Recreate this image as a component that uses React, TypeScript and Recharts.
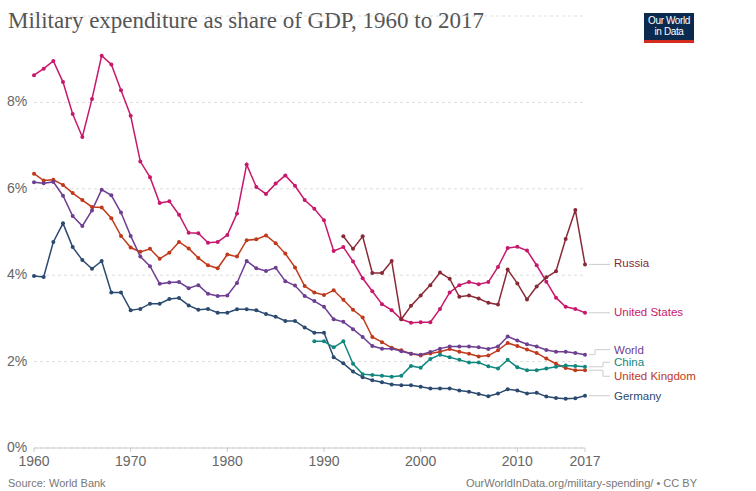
import { CartesianGrid, Line, LineChart, XAxis, YAxis } from "recharts";

const years = Array.from({ length: 58 }, (_, i) => 1960 + i);

const usa = [
  8.63, 8.78, 8.96, 8.47, 7.73, 7.2, 8.08, 9.08, 8.88, 8.28,
  7.69, 6.63, 6.27, 5.67, 5.71, 5.4, 4.98, 4.97, 4.75, 4.77,
  4.93, 5.43, 6.56, 6.04, 5.88, 6.12, 6.31, 6.07, 5.74, 5.54,
  5.27, 4.56, 4.65, 4.32, 3.93, 3.63, 3.33, 3.19, 2.98, 2.9,
  2.91, 2.91, 3.22, 3.6, 3.77, 3.84, 3.79, 3.84, 4.19, 4.63,
  4.66, 4.57, 4.23, 3.85, 3.48, 3.27, 3.22, 3.13,
];

// Russia from 1992
const russia = [
  4.9, 4.61, 4.9, 4.05, 4.05, 4.33, 2.98, 3.29,
  3.53, 3.77, 4.06, 3.92, 3.5, 3.53, 3.46, 3.36, 3.32, 4.13,
  3.81, 3.44, 3.74, 3.95, 4.09, 4.84, 5.51, 4.25,
];

const world = [
  6.15, 6.13, 6.16, 5.84, 5.37, 5.14, 5.5, 5.98, 5.85, 5.45,
  4.91, 4.43, 4.21, 3.8, 3.83, 3.84, 3.7, 3.77, 3.57, 3.52,
  3.53, 3.82, 4.33, 4.16, 4.1, 4.17, 3.86, 3.76, 3.52, 3.4,
  3.27, 2.98, 2.92, 2.75, 2.57, 2.36, 2.3, 2.3, 2.24, 2.18,
  2.16, 2.22, 2.3, 2.35, 2.35, 2.35, 2.33, 2.29, 2.35, 2.58,
  2.49, 2.4, 2.35, 2.27, 2.23, 2.23, 2.2, 2.16,
];

const uk = [
  6.35, 6.19, 6.21, 6.09, 5.9, 5.74, 5.58, 5.57, 5.32, 4.91,
  4.64, 4.54, 4.61, 4.38, 4.52, 4.77, 4.62, 4.4, 4.23, 4.16,
  4.48, 4.43, 4.81, 4.83, 4.92, 4.74, 4.5, 4.18, 3.75, 3.6,
  3.54, 3.65, 3.43, 3.2, 3.02, 2.57, 2.45, 2.32, 2.26, 2.18,
  2.14, 2.19, 2.23, 2.29, 2.23, 2.18, 2.12, 2.14, 2.26, 2.43,
  2.36, 2.28, 2.2, 2.07, 1.95, 1.85, 1.8, 1.8,
];

// China from 1989
const china = [
  2.47, 2.47, 2.33, 2.47, 1.95, 1.71, 1.69, 1.67, 1.65, 1.67,
  1.9, 1.86, 2.06, 2.16, 2.1, 2.04, 1.98, 1.98, 1.89, 1.84, 2.04,
  1.87, 1.8, 1.8, 1.84, 1.88, 1.91, 1.9, 1.88,
];

const germany = [
  3.98, 3.96, 4.77, 5.2, 4.65, 4.35, 4.15, 4.33, 3.6, 3.6,
  3.19, 3.22, 3.34, 3.34, 3.45, 3.47, 3.3, 3.2, 3.22, 3.13,
  3.13, 3.21, 3.21, 3.19, 3.1, 3.04, 2.94, 2.94, 2.79, 2.67,
  2.67, 2.1, 1.96, 1.77, 1.64, 1.57, 1.52, 1.47, 1.45, 1.45,
  1.42, 1.38, 1.38, 1.38, 1.33, 1.3, 1.25, 1.2, 1.26, 1.36,
  1.33, 1.26, 1.28, 1.19, 1.16, 1.14, 1.15, 1.21,
];

const xTicks = [1960, 1970, 1980, 1990, 2000, 2010, 2017];
const yTicks = [0, 2, 4, 6, 8];

const padFront = (arr: number[]) =>
  [...Array(years.length - arr.length).fill(null), ...arr];

const data = years.map((year, i) => ({
  year,
  usa: usa[i],
  russia: padFront(russia)[i],
  world: world[i],
  uk: uk[i],
  china: padFront(china)[i],
  germany: germany[i],
}));

// label nudges for the right-hand legend (dy from end point, elbow x offset)
const series = [
  { key: "germany", name: "Germany", color: "#2b4a6f", dy: 0, elbow: 0 },
  { key: "uk", name: "United Kingdom", color: "#c0391b", dy: 6, elbow: 18 },
  { key: "china", name: "China", color: "#10877f", dy: -4.5, elbow: 18 },
  { key: "world", name: "World", color: "#6d3e91", dy: -5, elbow: 10 },
  { key: "usa", name: "United States", color: "#c8186c", dy: -1, elbow: 0 },
  { key: "russia", name: "Russia", color: "#882a35", dy: -1, elbow: 0 },
];

const sans = "'Liberation Sans', Arial, sans-serif";

function endLabel(s: (typeof series)[number]) {
  return (props: any) => {
    const { x, y, index } = props;
    if (index !== years.length - 1 || x == null || y == null) return null;
    const ly = y + s.dy;
    const x0 = x + 4;
    const x1 = x + 25;
    const ex = s.elbow ? x + s.elbow : x0;
    const path = s.elbow
      ? `M${x0},${y}H${ex}V${ly}H${x1}`
      : `M${x0},${y}H${x1}`;
    return (
      <g key={`lbl-${s.key}`}>
        <path d={path} stroke="#ccc" strokeWidth={1} fill="none" />
        <text
          x={x + 29}
          y={ly}
          dominantBaseline="central"
          fill={s.color}
          fontSize={11.5}
          fontFamily={sans}
        >
          {s.name}
        </text>
      </g>
    );
  };
}

const YTick = (props: any) => {
  const { y, payload } = props;
  return (
    <text x={7} y={y - 1} dominantBaseline="central" fill="#666" fontSize={14} fontFamily={sans}>
      {payload.value}%
    </text>
  );
};

export default function App() {
  return (
    <div
      style={{
        position: "absolute",
        left: 0,
        top: 0,
        width: 756,
        height: 491,
        background: "#fff",
        overflow: "hidden",
      }}
    >
      <div
        style={{
          position: "absolute",
          left: 8,
          top: 8,
          fontFamily: "'Liberation Serif', Georgia, serif",
          fontSize: 23,
          color: "#555",
          whiteSpace: "nowrap",
        }}
      >
        Military expenditure as share of GDP, 1960 to 2017
      </div>
      <div
        style={{
          position: "absolute",
          left: 644,
          top: 13,
          width: 50,
          height: 25,
          background: "#0c2a4d",
          borderBottom: "3px solid #d42b21",
          color: "#fff",
          fontFamily: sans,
          fontSize: 10,
          lineHeight: "11px",
          textAlign: "center",
          paddingTop: 2,
          boxSizing: "content-box",
          letterSpacing: -0.4,
        }}
      >
        Our World
        <br />
        in Data
      </div>
      <LineChart
        width={756}
        height={491}
        data={data}
        margin={{ top: 16, right: 171, bottom: 13, left: 0 }}
      >
        <CartesianGrid
          horizontal
          vertical={false}
          stroke="#ddd"
          strokeDasharray="3 3"
        />
        <XAxis
          dataKey="year"
          type="number"
          domain={[1960, 2017]}
          ticks={xTicks}
          height={30}
          stroke="#ccc"
          tickSize={4}
          tickMargin={4}
          tick={{ fill: "#666", fontSize: 14, fontFamily: sans }}
          interval={0}
        />
        <YAxis
          domain={[0, 10]}
          ticks={yTicks}
          width={34}
          axisLine={false}
          tickLine={false}
          tick={<YTick />}
        />
        {series.map((s) => (
          <Line
            key={s.key}
            dataKey={s.key}
            stroke={s.color}
            strokeWidth={1.5}
            dot={{ r: 2, fill: s.color, stroke: s.color, strokeWidth: 0 }}
            activeDot={false}
            isAnimationActive={false}
            label={endLabel(s)}
          />
        ))}
      </LineChart>
      <div
        style={{
          position: "absolute",
          left: 8,
          top: 477,
          fontFamily: sans,
          fontSize: 11,
          color: "#777",
        }}
      >
        Source: World Bank
      </div>
      <div
        style={{
          position: "absolute",
          right: 59,
          top: 477,
          fontFamily: sans,
          fontSize: 11,
          color: "#777",
        }}
      >
        OurWorldInData.org/military-spending/ • CC BY
      </div>
    </div>
  );
}
